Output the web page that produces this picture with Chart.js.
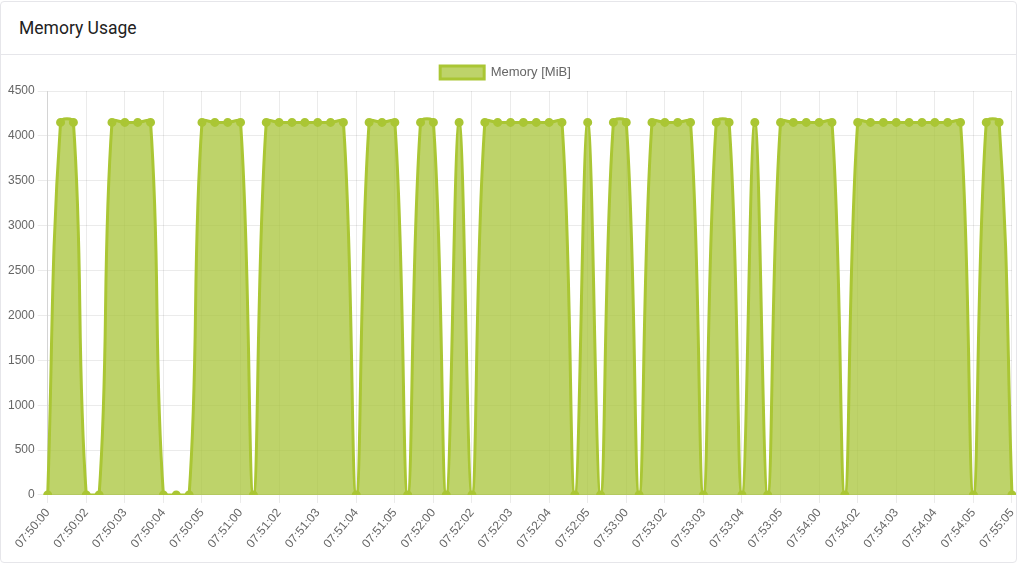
<!DOCTYPE html>
<html>
<head>
<meta charset="utf-8">
<title>Memory Usage</title>
<script src="https://cdn.jsdelivr.net/npm/chart.js@4.4.1/dist/chart.umd.min.js"></script>
<style>
    html, body {
        margin: 0;
        padding: 0;
        background: #fff;
        overflow: hidden;
        font-family: Roboto, "Helvetica Neue", Arial, sans-serif;
    }
    .card {
        position: absolute;
        left: 0;
        top: 1px;
        width: 1017px;
        height: 562px;
        box-sizing: border-box;
        border: 1px solid #e6e6ea;
        border-radius: 4px;
        background: #fff;
        overflow: hidden;
    }
    .card-header {
        height: 53px;
        border-bottom: 1px solid #e6e6ea;
        box-sizing: border-box;
        padding: 16px 0 0 18px;
    }
    .card-header h3 {
        margin: 0;
        font-size: 17.5px;
        font-weight: 400;
        color: #222;
    }
    .chart-wrap {
        position: absolute;
        left: -16px;
        top: 54px;
        width: 1041px;
        height: 498px;
    }
</style>
</head>
<body>
<div class="card">
    <div class="card-header"><h3>Memory Usage</h3></div>
    <div class="chart-wrap"><canvas id="memoryChart"></canvas></div>
</div>
<script>
// x axis timestamps (only every 3rd one ends up shown)
const timeLabels = [
    '07:50:00', '07:50:01', '07:50:01', '07:50:02', '07:50:02', '07:50:03',
    '07:50:03', '07:50:03', '07:50:04', '07:50:04', '07:50:05', '07:50:05',
    '07:50:05', '07:51:00', '07:51:00', '07:51:00', '07:51:01', '07:51:01',
    '07:51:02', '07:51:02', '07:51:03', '07:51:03', '07:51:04', '07:51:04',
    '07:51:04', '07:51:05', '07:51:05', '07:51:05', '07:52:00', '07:52:00',
    '07:52:00', '07:52:01', '07:52:01', '07:52:02', '07:52:02', '07:52:03',
    '07:52:03', '07:52:03', '07:52:04', '07:52:04', '07:52:05', '07:52:05',
    '07:52:05', '07:53:00', '07:53:00', '07:53:00', '07:53:01', '07:53:01',
    '07:53:02', '07:53:02', '07:53:03', '07:53:03', '07:53:04', '07:53:04',
    '07:53:04', '07:53:05', '07:53:05', '07:53:05', '07:54:00', '07:54:00',
    '07:54:00', '07:54:01', '07:54:01', '07:54:02', '07:54:02', '07:54:03',
    '07:54:03', '07:54:03', '07:54:04', '07:54:04', '07:54:05', '07:54:05',
    '07:54:05', '07:55:00', '07:55:03', '07:55:05'
];

// memory in MiB
const memoryValues = [
    0, 4150, 4150, 0, 0, 4150, 4150, 4150, 4150, 0, 0, 0,
    4150, 4150, 4150, 4150, 0, 4150, 4150, 4150, 4150, 4150, 4150, 4150,
    0, 4150, 4150, 4150, 0, 4150, 4150, 0, 4150, 0, 4150, 4150,
    4150, 4150, 4150, 4150, 4150, 0, 4150, 0, 4150, 4150, 0, 4150,
    4150, 4150, 4150, 0, 4150, 4150, 0, 4150, 0, 4150, 4150, 4150,
    4150, 4150, 0, 4150, 4150, 4150, 4150, 4150, 4150, 4150, 4150, 4150,
    0, 4150, 4150, 0
];

const yTicks = [0, 500, 1000, 1500, 2000, 2500, 3000, 3500, 4000, 4500];

Chart.defaults.font.family = "'Helvetica Neue', Helvetica, Arial, sans-serif";
Chart.defaults.font.size = 12;
Chart.defaults.color = '#666';

// a bit more room under the legend
const legendSpacer = {
    id: 'legendSpacer',
    beforeInit(chart) {
        const fit = chart.legend.fit;
        chart.legend.fit = function() {
            fit.bind(chart.legend)();
            this.height += 2;
        };
    }
};

const memoryChart = (function(){

    const chartData = {
        labels: timeLabels,
        datasets: [{
            label: 'Memory [MiB]',
            data: memoryValues,
            backgroundColor: 'rgba(168, 196, 56, 0.75)',
            borderColor: 'rgba(170, 198, 52, 1)',
            pointBackgroundColor: 'rgba(170, 198, 52, 1)',
            pointBorderColor: 'rgba(170, 198, 52, 1)',
            borderWidth: 3,
            pointRadius: 3,
            tension: 0.4,
            fill: true
        }]
    };

    const config = {
        type: 'line',
        data: chartData,
        plugins: [legendSpacer],
        options: {
            responsive: true,
            maintainAspectRatio: false,
            animation: false,
            plugins: {
                legend: {
                    position: 'top',
                    labels: {
                        boxWidth: 44,
                        boxHeight: 13,
                        padding: 10,
                        font: { size: 13 }
                    }
                },
                tooltip: { enabled: false }
            },
            scales: {
                x: {
                    grid: {
                        color: 'rgba(0, 0, 0, 0.08)',
                        tickLength: 8
                    },
                    ticks: {
                        autoSkip: true,
                        maxTicksLimit: 26,
                        minRotation: 50,
                        maxRotation: 50
                    }
                },
                y: {
                    min: yTicks[0],
                    max: yTicks[yTicks.length - 1],
                    // push the plot right without moving the legend
                    afterFit: function(scale) {
                        scale.width += 20;
                    },
                    grid: {
                        color: 'rgba(0, 0, 0, 0.08)',
                        tickLength: 10
                    },
                    ticks: {
                        stepSize: yTicks[1] - yTicks[0],
                        callback: function(value) {
                            return String(value);
                        }
                    }
                }
            }
        }
    };

    const ctx = document.getElementById('memoryChart').getContext('2d');
    return new Chart(ctx, config);

})();
</script>
</body>
</html>
